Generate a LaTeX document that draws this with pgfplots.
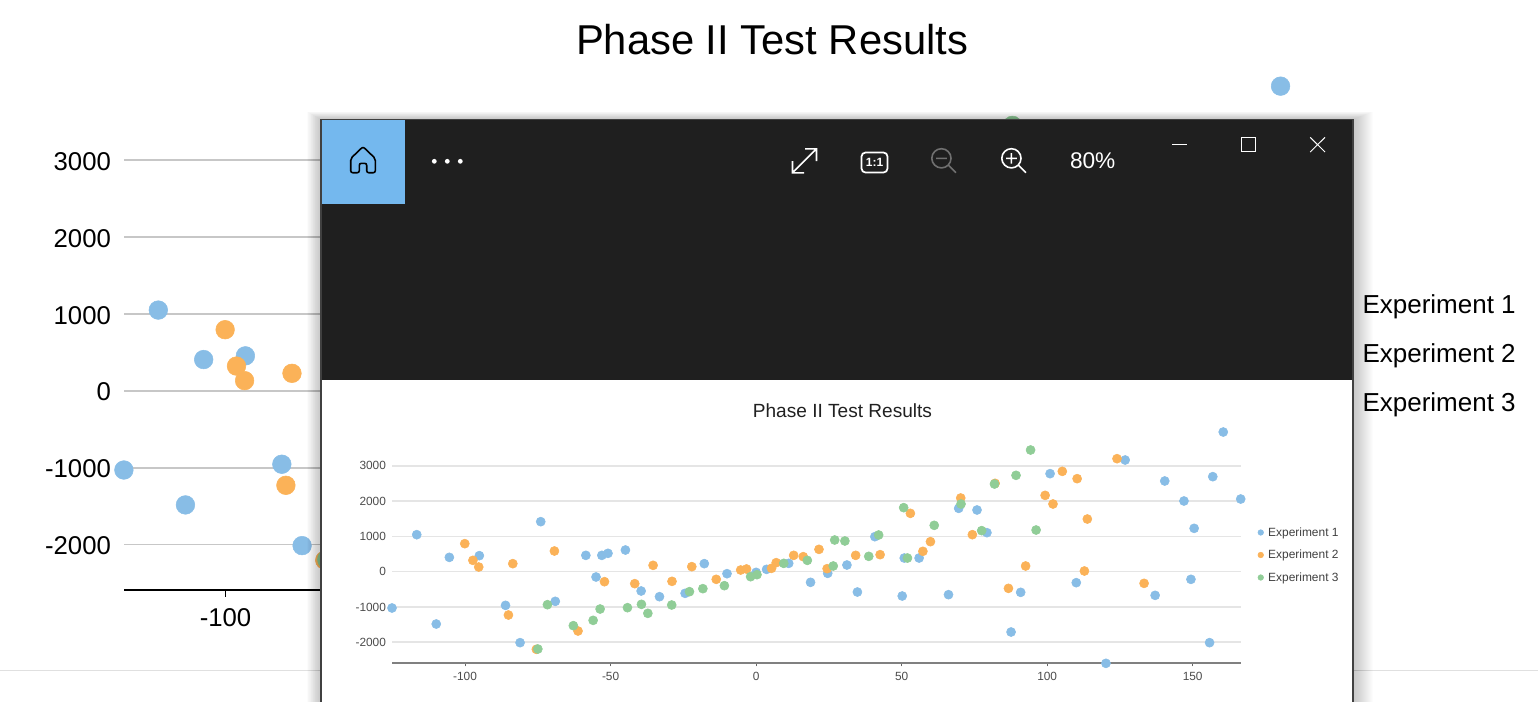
\documentclass[border=0pt]{standalone}
\usepackage{pgfplots}
\usepackage{pgfplotstable}
\usepackage{fontspec}
\setmainfont{Liberation Sans}
\pgfplotsset{compat=1.18}
\definecolor{ba}{HTML}{88BDE6}
\definecolor{bo}{HTML}{FBB258}
\definecolor{bg}{HTML}{90CD97}
\definecolor{winbg}{HTML}{1F1F1F}
\definecolor{tile}{HTML}{74B8EE}
\pgfplotstableread{
x y
-125.1 -1030
-116.6 1049
-109.9 -1484
-105.4 406
-95.1 454
-86.1 -955
-81.1 -2013
-74 1418
-69 -841
-58.5 463
-55 -151
-53 463
-50.9 520
-44.9 614
-39.5 -548
-33.2 -709
-24.4 -614
-17.8 227
-10 -57
0 -19
3.6 66
11.2 236
18.7 -302
24.6 -47
31.2 189
34.8 -577
40.8 992
50.9 387
50.2 -690
56 387
66.1 -652
69.6 1796
75.9 1749
79.3 1106
87.6 -1711
90.9 -586
101 2779
110 -312
120.2 -2599
126.8 3166
137.1 -671
140.4 2571
147 2004
149.4 -217
150.5 1229
155.8 -2013
156.9 2694
160.5 3960
166.5 2060
}\expA
\pgfplotstableread{
x y
-100.1 794
-97.3 321
-95.3 132
-85.1 -1229
-83.6 227
-75.5 -2202
-69.3 586
-61.2 -1682
-52.1 -284
-41.7 -340
-35.4 180
-28.9 -274
-22.1 142
-13.7 -217
-5.3 47
-3.3 76
5.3 95
6.9 255
12.9 463
16.2 425
21.6 633
24.4 85
34.2 463
42.6 482
53 1654
57.3 577
59.9 851
70.3 2089
74.3 1049
82.1 2505
86.7 -473
92.6 161
99.3 2164
102 1919
105.2 2845
110.3 2637
112.8 19
113.8 1493
124 3204
133.3 -331
}\expB
\pgfplotstableread{
x y
-75 -2193
-71.7 -936
-62.8 -1531
-56 -1380
-53.6 -1059
-44.2 -1021
-39.4 -926
-37.2 -1181
-29 -945
-22.9 -567
-18.3 -482
-10.9 -397
-1.9 -142
0.3 -85
9.5 236
17.6 321
26.5 161
27 898
30.5 870
38.7 435
42.1 1040
50.7 1815
52 387
61.2 1314
70.4 1919
77.5 1163
81.9 2486
89.3 2732
94.3 3450
96.2 1181
}\expC
\pgfplotsset{
  common/.style={
    scale only axis, clip=false,
    xmin=-125, xmax=166.5, ymin=-2590, ymax=4000,
    xtick={-100,-50,0,50,100,150},
    ytick={-2000,-1000,0,1000,2000,3000},
    axis x line=bottom, axis y line=left,
    x axis line style={-}, y axis line style={draw=none},
    ytick style={draw=none},
    tick align=outside,
    ymajorgrids,
    /pgf/number format/assume math mode=true,
    /pgf/number format/1000 sep={},
    legend cell align=left,
    legend image code/.code={\draw[##1,mark repeat=1] plot coordinates {(0,0)};},
  },
}
\begin{document}
\begin{tikzpicture}[x=0.75pt,y=-0.75pt]
\path[use as bounding box] (0,0) rectangle (1538,701);
\coordinate (O) at (124.3,590);
\coordinate (I) at (392.3,663);
\begin{axis}[common,
  at={(O)}, anchor=south west,
  width=885.4pt, height=380.2pt,
  tick label style={font=\fontsize{19.3}{23}\selectfont, text=black},
  title={Phase II Test Results},
  title style={at={(axis description cs:0.5487,1)},anchor=south,yshift=11.5pt,font=\fontsize{31.3}{36}\selectfont},
  grid style={color=black!22, line width=1.2pt},
  x axis line style={black,line width=1.1pt,-},
  xtick style={black,line width=0.8pt},
  major tick length=5pt,
  yticklabel style={xshift=-1.5pt,yshift=-1pt},
  xticklabel style={yshift=-5.5pt},
  legend style={at={(axis description cs:1.017,0.4645)},anchor=west,draw=none,fill=none,font=\fontsize{19.5}{23}\selectfont,row sep=17.1pt,column sep=12pt,inner sep=0pt},
  legend entries={Experiment 1,Experiment 2,Experiment 3},
]
\addplot[only marks,mark=*,mark size=7pt,ba,mark options={draw=none,fill=ba}] table {\expA};
\addplot[only marks,mark=*,mark size=7pt,bo,mark options={draw=none,fill=bo}] table {\expB};
\addplot[only marks,mark=*,mark size=7pt,bg,mark options={draw=none,fill=bg}] table {\expC};
\end{axis}
% light rule at the foot of the page behind the window
\draw[black!12,line width=0.75pt] (0,670.5) -- (1538,670.5);
% window shadow
\foreach \i in {1,...,20}{\fill[black,opacity=0.01] (321-0.7*\i,119.5-0.4*\i) rectangle (1353+\i,710);}
% window
\fill[white] (321,119.5) rectangle (1353,710);
\fill[winbg] (321,119.5) rectangle (1353,380);
\draw[black!75,line width=0.9pt] (321,710) -- (321,119.5) -- (1353,119.5) -- (1353,710);
\fill[tile] (321.5,120) rectangle (405,204);
% home icon
\draw[black,line width=1.2pt,line join=round,rounded corners=1.5pt] (359.3,172.7) -- (359.3,163.3) -- (366.7,163.3) -- (366.7,172.7) -- (375.3,172.7) -- (375.3,158.5) -- (363,146.7) -- (350.7,158.5) -- (350.7,172.7) -- cycle;
% dots
\fill[white] (434.3,161.3) circle (2.4) (447.3,161.3) circle (2.4) (460.3,161.3) circle (2.4);
% expand
\draw[white,line width=1.2pt] (792.5,172.8) -- (816.5,148.8) (805,148.8) -- (816.5,148.8) -- (816.5,161) (792.5,161) -- (792.5,172.8) -- (804,172.8);
% 1:1
\draw[white,line width=1.3pt,rounded corners=3pt] (861.5,152.5) rectangle (887.5,172.5);
\node[text=white,font=\fontsize{9}{10}\selectfont\bfseries,inner sep=0pt] at (874.5,162.5) {1:1};
% zoom out
\draw[black!35!white!60!winbg,line width=1.2pt] (941.4,158.3) circle (9.6) (948.2,165) -- (956,172.7) (936,158.3) -- (946.8,158.3);
% zoom in
\draw[white,line width=1.2pt] (1011.4,158.3) circle (9.6) (1018.2,165) -- (1026,172.7) (1006,158.3) -- (1016.8,158.3) (1011.4,153) -- (1011.4,163.6);
\node[text=white,font=\fontsize{17}{20}\selectfont,inner sep=0pt] at (1092.7,160.5) {80\%};
% caption buttons
\draw[white,line width=0.75pt] (1172.3,144.3) -- (1187.2,144.3);
\draw[white,line width=0.75pt] (1241.3,137.3) rectangle (1255.8,151.7);
\draw[white,line width=0.75pt] (1310.2,137.3) -- (1325,152) (1310.2,152) -- (1325,137.3);
\begin{axis}[common,
  at={(I)}, anchor=south west,
  width=636.3pt, height=174.3pt,
  tick label style={font=\fontsize{8.9}{11}\selectfont, text=black!70},
  title={Phase II Test Results},
  title style={at={(axis description cs:0.5306,1)},anchor=south,yshift=0pt,font=\fontsize{14.3}{17}\selectfont,text=black!87},
  grid style={color=black!10, line width=1.1pt},
  x axis line style={black!50,line width=0.9pt,-},
  xtick style={black!60,line width=0.5pt},
  major tick length=2.5pt,
  yticklabel style={xshift=1.25pt},
  xticklabel style={yshift=-0.5pt},
  legend style={at={(axis description cs:1.02,0.4634)},anchor=west,draw=none,fill=none,font=\fontsize{8.95}{11}\selectfont,row sep=4.9pt,column sep=1.5pt,inner sep=0pt,text=black!75},
  legend entries={Experiment 1,Experiment 2,Experiment 3},
  legend image post style={mark size=2.1pt},
]
\addplot[only marks,mark=*,mark size=3.4pt,ba,mark options={draw=none,fill=ba}] table {\expA};
\addplot[only marks,mark=*,mark size=3.4pt,bo,mark options={draw=none,fill=bo}] table {\expB};
\addplot[only marks,mark=*,mark size=3.4pt,bg,mark options={draw=none,fill=bg}] table {\expC};
\end{axis}
\end{tikzpicture}
\end{document}
